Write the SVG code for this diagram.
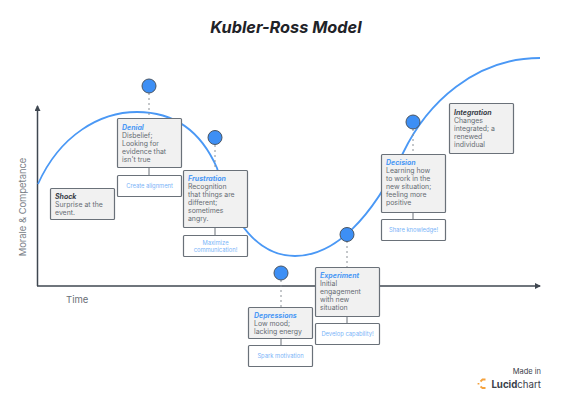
<svg xmlns="http://www.w3.org/2000/svg" width="572" height="400" viewBox="0 0 572 400">
<style>
text{font-family:Inter,"Liberation Sans",sans-serif}
.box{fill:#f1f1f1;stroke:#6a7179;stroke-width:1.200;}
.act{fill:#fff;stroke:#6a7179;stroke-width:1.200;}
.dot{fill:#3d8ff5;stroke:#4a5562;stroke-width:1}
.h{font-size:7px;font-weight:700;font-style:italic}
.hb{fill:#4a98f5}.hk{fill:#3a414a}
.t{font-size:6.900px;fill:#666c73}
.a{font-size:5.800px;fill:#7ab4f8;text-anchor:middle}
.lnk{stroke:#6a7179;stroke-width:1;fill:none}
.dash{stroke:#8a9096;stroke-width:1;stroke-dasharray:2 3;fill:none}
</style>
<defs><marker id="ah" markerWidth="6" markerHeight="6" refX="5" refY="3" orient="auto" markerUnits="userSpaceOnUse"><path d="M0 0L6 3L0 6Z" fill="#3f4750"/></marker></defs>
<rect width="572" height="400" fill="#fff"/>
<text x="286" y="33" font-size="16.300" font-weight="700" font-style="italic" fill="#1f2328" text-anchor="middle">Kubler-Ross Model</text>
<g id="connectors">
<path d="M37.500 286V106" stroke="#3f4750" stroke-width="1.500" fill="none" marker-end="url(#ah)"/>
<path d="M37 286H540" stroke="#3f4750" stroke-width="1.500" fill="none" marker-end="url(#ah)"/>
<path d="M38 184C60 135 100 112 137 112C178 112 203 136 217 168C232 225 260 256 295 256C335 256 372 218 403 153C427 103 475 58 540 58" fill="none" stroke="#4a98f5" stroke-width="1.800"/>
<path class="dash" d="M149 93V118"/><path class="dash" d="M215 145V170"/><path class="dash" d="M281 280V307"/><path class="dash" d="M347 241V267"/><path class="dash" d="M413 129V154"/>
<path class="lnk" d="M149 168V175"/><path class="lnk" d="M215 228V235"/><path class="lnk" d="M281 338V345"/><path class="lnk" d="M347 316V323"/><path class="lnk" d="M413 213V219"/>
</g>
<text x="26" y="207" font-size="9.400" fill="#7a8087" text-anchor="middle" transform="rotate(-90 26 207)">Morale &amp; Competance</text>
<text x="66" y="303" font-size="9.500" fill="#6a7077">Time</text>
<g id="shock"><rect class="box" x="50.500" y="188.500" width="64" height="31" rx="1"/><text class="h hk" x="55" y="199">Shock</text><text class="t" x="55" y="207">Surprise at the</text><text class="t" x="55" y="215">event.</text></g>
<g id="denial"><rect class="box" x="117.500" y="118.500" width="64" height="49" rx="1"/><text class="h hb" x="122" y="130">Denial</text><text class="t" x="122" y="138">Disbelief;</text><text class="t" x="122" y="146">Looking for</text><text class="t" x="122" y="154">evidence that</text><text class="t" x="122" y="162">isn't true</text>
<circle class="dot" cx="149" cy="86" r="7"/><rect class="act" x="117.500" y="175.500" width="64" height="21" rx="1"/><text class="a" x="149.500" y="187.500">Create alignment</text></g>
<g id="frustration"><rect class="box" x="183.500" y="170.500" width="64" height="57" rx="1"/><text class="h hb" x="188" y="181">Frustration</text><text class="t" x="188" y="189">Recognition</text><text class="t" x="188" y="197">that things are</text><text class="t" x="188" y="205">different;</text><text class="t" x="188" y="213">sometimes</text><text class="t" x="188" y="221">angry.</text>
<circle class="dot" cx="215" cy="137.500" r="7"/><rect class="act" x="183.500" y="235.500" width="64" height="21" rx="1"/><text class="a" x="215.500" y="244.500">Maximize</text><text class="a" x="215.500" y="251.500">communication!</text></g>
<g id="depressions"><rect class="box" x="248.500" y="307.500" width="64" height="31" rx="1"/><text class="h hb" x="254" y="318">Depressions</text><text class="t" x="254" y="326">Low mood;</text><text class="t" x="254" y="334">lacking energy</text>
<circle class="dot" cx="281" cy="273" r="7"/><rect class="act" x="248.500" y="345.500" width="64" height="21" rx="1"/><text class="a" x="280.500" y="357.500">Spark motivation</text></g>
<g id="experiment"><rect class="box" x="315.500" y="267.500" width="64" height="49" rx="1"/><text class="h hb" x="320" y="278">Experiment</text><text class="t" x="320" y="286">Initial</text><text class="t" x="320" y="294">engagement</text><text class="t" x="320" y="302">with new</text><text class="t" x="320" y="310">situation</text>
<circle class="dot" cx="347" cy="234.500" r="7"/><rect class="act" x="315.500" y="323.500" width="64" height="21" rx="1"/><text class="a" x="347.500" y="335.500">Develop capability!</text></g>
<g id="decision"><rect class="box" x="381.500" y="154.500" width="64" height="58" rx="1"/><text class="h hb" x="386" y="165">Decision</text><text class="t" x="386" y="173">Learning how</text><text class="t" x="386" y="181">to work in the</text><text class="t" x="386" y="189">new situation;</text><text class="t" x="386" y="197">feeling more</text><text class="t" x="386" y="205">positive</text>
<circle class="dot" cx="413" cy="122" r="7"/><rect class="act" x="381.500" y="219.500" width="64" height="21" rx="1"/><text class="a" x="413.500" y="231.500">Share knowledge!</text></g>
<g id="integration"><rect class="box" x="449.500" y="103.500" width="64" height="50" rx="1"/><text class="h hk" x="454" y="115">Integration</text><text class="t" x="454" y="123">Changes</text><text class="t" x="454" y="131">integrated; a</text><text class="t" x="454" y="139">renewed</text><text class="t" x="454" y="147">individual</text></g>
<text x="541" y="374" font-size="7.500" fill="#3a414a" text-anchor="end">Made in</text>
<g fill="none" stroke="#f5a23c" stroke-width="1.800"><path d="M485.500 379.500H482.500L480.500 381.500M478.500 383V384.500M480.500 386.500L482.500 388H485.500"/></g>
<text x="541" y="388" font-size="9.700" fill="#3a414a" text-anchor="end"><tspan font-weight="700">Lucid</tspan>chart</text>
</svg>
